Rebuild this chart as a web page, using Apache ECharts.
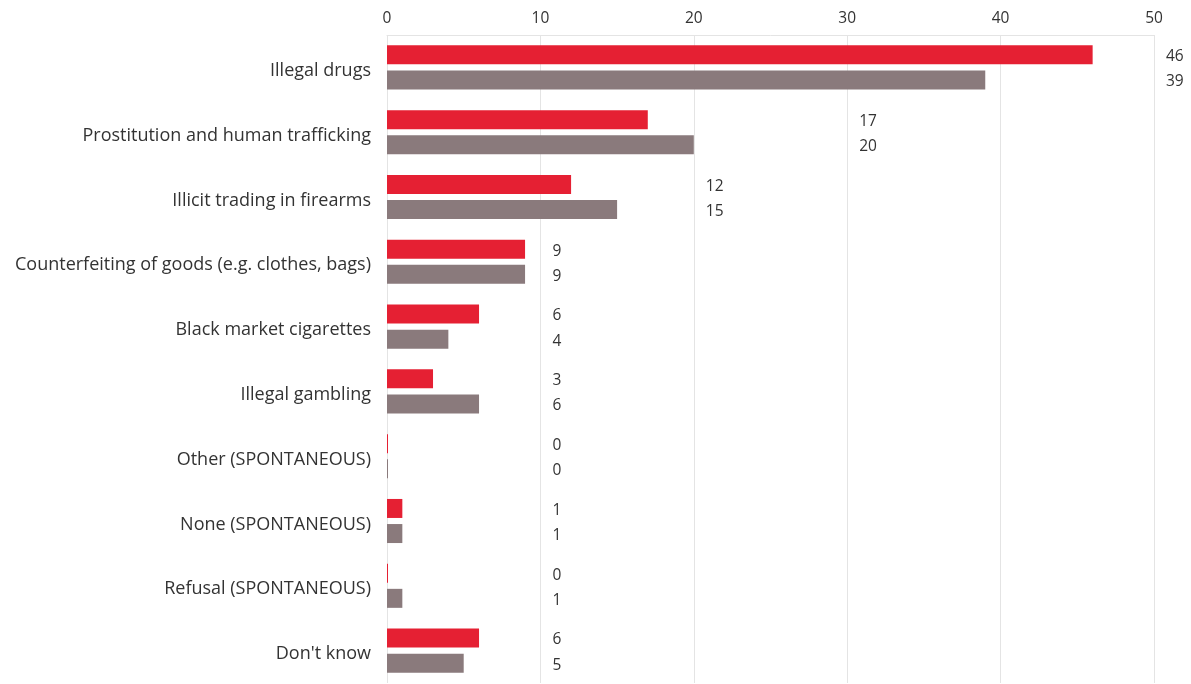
<!DOCTYPE html>
<html>
<head>
<meta charset="utf-8">
<script src="https://cdn.jsdelivr.net/npm/echarts@6/dist/echarts.min.js"></script>
<style>
  html, body { margin: 0; padding: 0; background: #fff; }
  #chart { width: 1191px; height: 684px; }
</style>
</head>
<body>
<div id="chart"></div>
<script>
const categories = [
  "Illegal drugs",
  "Prostitution and human trafficking",
  "Illicit trading in firearms",
  "Counterfeiting of goods (e.g. clothes, bags)",
  "Black market cigarettes",
  "Illegal gambling",
  "Other (SPONTANEOUS)",
  "None (SPONTANEOUS)",
  "Refusal (SPONTANEOUS)",
  "Don't know"
];
const seriesA = [46, 17, 12, 9, 6, 3, 0, 1, 0, 6];
const seriesB = [39, 20, 15, 9, 4, 6, 0, 1, 1, 5];
const xTicks = [0, 10, 20, 30, 40, 50];

// label anchor: next gridline beyond the larger value of each pair
const anchors = categories.map((c, i) => Math.floor(Math.max(seriesA[i], seriesB[i]) / 10) * 10 + 10);

const RED = '#e52033';
const GREY = '#8a7a7c';
const FONT = 'Open Sans';
const BW = 19;
const GAP = '32%';

const chart = echarts.init(document.getElementById('chart'), null, { renderer: 'canvas' });
function helper(values) {
  return {
    type: 'bar', yAxisIndex: 1, silent: true,
    data: values.map((v, i) => anchors[i]),
    barWidth: BW, barGap: GAP,
    itemStyle: { color: 'rgba(0,0,0,0)' },
    label: {
      show: true, position: 'right', distance: 12,
      formatter: p => '{v|' + values[p.dataIndex] + '}',
      rich: { v: { color: '#333', fontFamily: FONT, fontSize: 15.5, padding: [4, 0, 0, 0] } }
    },
    z: 1
  };
}
chart.setOption({
  animation: false,
  grid: { left: 387, right: 37, top: 35, bottom: 1, containLabel: false },
  xAxis: {
    type: 'value', position: 'top', min: 0, max: 50, interval: 10,
    axisLine: { show: true, lineStyle: { color: '#e4e4e4' } },
    axisTick: { show: false },
    splitLine: { show: true, lineStyle: { color: '#e4e4e4', width: 1 } },
    axisLabel: {
      color: '#333', fontFamily: FONT, fontSize: 15.5, margin: 8,
      formatter: v => xTicks.indexOf(v) >= 0 ? String(v) : ''
    }
  },
  yAxis: [{
    type: 'category', data: categories, inverse: true,
    axisLine: { show: false }, axisTick: { show: false },
    axisLabel: {
      margin: 16,
      formatter: v => '{c|' + v + '}',
      rich: { c: { color: '#333', fontFamily: FONT, fontSize: 18, padding: [7, 0, 0, 0] } }
    }
  }, {
    type: 'category', data: categories, inverse: true, show: false
  }],
  series: [{
    type: 'bar', data: seriesA, barWidth: BW, barGap: GAP, barMinHeight: 1,
    itemStyle: { color: RED }, z: 2
  }, {
    type: 'bar', data: seriesB, barWidth: BW, barGap: GAP, barMinHeight: 1,
    itemStyle: { color: GREY }, z: 2
  }, helper(seriesA), helper(seriesB)]
});
</script>
</body>
</html>
